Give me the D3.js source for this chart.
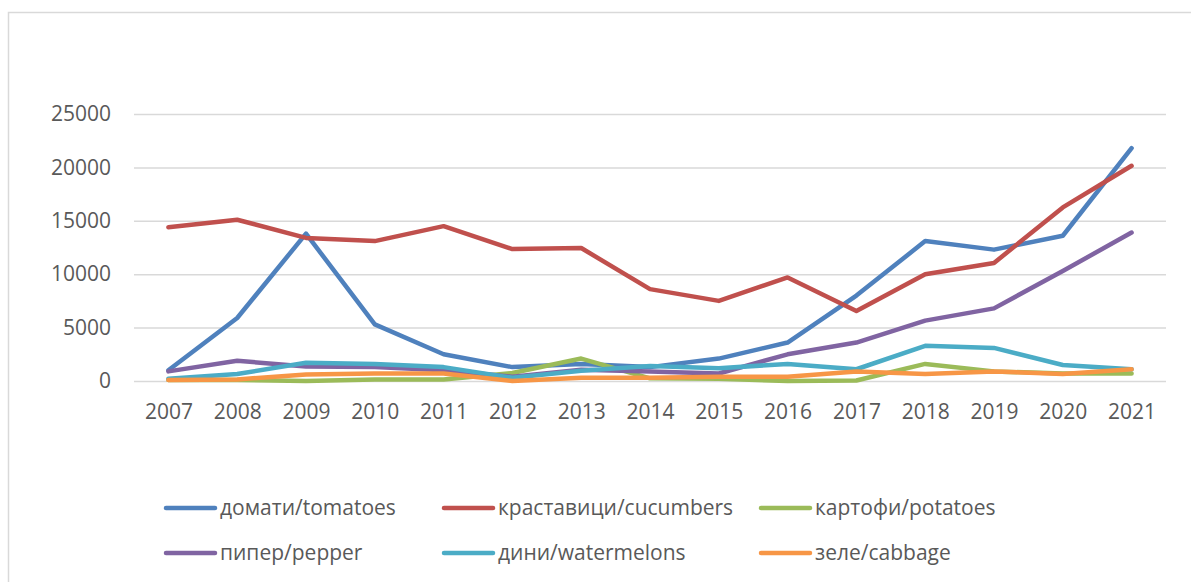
<!DOCTYPE html>
<html>
<head>
<meta charset="utf-8">
<script src="https://cdn.jsdelivr.net/npm/d3@7"></script>
<style>
  body { margin: 0; background: #fff; }
  text { font-family: "Open Sans", "Liberation Sans", sans-serif; fill: #595959; }
</style>
</head>
<body>
<div class="chart"></div>
<script>
'use strict';

var YEARS = ['2007', '2008', '2009', '2010', '2011', '2012', '2013', '2014',
  '2015', '2016', '2017', '2018', '2019', '2020', '2021'];
var Y_TICKS = [0, 5000, 10000, 15000, 20000, 25000];

var SERIES_NAMES = ['домати/tomatoes', 'краставици/cucumbers', 'картофи/potatoes',
  'пипер/pepper', 'дини/watermelons', 'зеле/cabbage'];
var SERIES_COLORS = ['#4f81bd', '#c0504d', '#9bbb59', '#8064a2', '#4bacc6', '#f79646'];

var tomatoes = [1000, 5900, 13800, 5300, 2500, 1300, 1600, 1300, 2100, 3600, 8000, 13100, 12300, 13600, 21800];
var cucumbers = [14400, 15100, 13400, 13100, 14500, 12350, 12450, 8600, 7500, 9700, 6550, 10000, 11050, 16250, 20150];
var potatoes = [100, 100, 0, 150, 150, 750, 2100, 250, 200, 0, 50, 1600, 900, 700, 700];
var pepper = [900, 1900, 1350, 1300, 1000, 400, 1050, 900, 700, 2500, 3600, 5650, 6800, 10300, 13900];
var watermelons = [200, 650, 1700, 1600, 1300, 300, 950, 1400, 1200, 1600, 1100, 3300, 3100, 1500, 1100];
var cabbage = [100, 150, 600, 700, 700, 0, 300, 300, 400, 400, 900, 650, 900, 650, 1100];

var seriesValues = [tomatoes, cucumbers, potatoes, pepper, watermelons, cabbage];

var FONT_SIZE = '21px';

var svg = d3.select('.chart').append('svg')
  .attr('width', 1191)
  .attr('height', 582);

// outer chart border
svg.append('rect')
  .attr('x', 8.5)
  .attr('y', 12.5)
  .attr('width', 1300)
  .attr('height', 700)
  .style('fill', 'none')
  .style('stroke', '#d9d9d9')
  .style('stroke-width', 1.5);

var x = d3.scalePoint()
  .domain(YEARS)
  .range([134, 1166])
  .padding(0.5);

var y = d3.scaleLinear()
  .domain([0, 25000])
  .range([381, 114]);

// gridlines + y labels
var yAxis = d3.axisLeft(y)
  .tickValues(Y_TICKS)
  .tickFormat(d3.format('d'))
  .tickSize(-(1166 - 134))
  .tickPadding(23);
var yAxisG = svg.append('g')
  .attr('transform', 'translate(134,0)')
  .call(yAxis);
yAxisG.select('.domain').remove();
yAxisG.selectAll('.tick line')
  .style('stroke', '#d9d9d9')
  .style('stroke-width', 1.5);
yAxisG.selectAll('.tick text')
  .style('font-size', FONT_SIZE)
  .style('fill', '#595959')
  .style('font-family', '"Open Sans", sans-serif');

// x labels
var xAxis = d3.axisBottom(x)
  .tickSize(0)
  .tickPadding(23);
var xAxisG = svg.append('g')
  .attr('transform', 'translate(0,381)')
  .call(xAxis);
xAxisG.select('.domain').remove();
xAxisG.selectAll('.tick text')
  .style('font-size', FONT_SIZE)
  .style('fill', '#595959')
  .style('font-family', '"Open Sans", sans-serif');

// lines
var line = d3.line()
  .x(function(d, i) { return x(YEARS[i]); })
  .y(function(d) { return y(d); });

svg.append('g')
  .selectAll('path')
  .data(seriesValues)
  .enter()
  .append('path')
  .attr('d', line)
  .style('fill', 'none')
  .style('stroke', function(d, i) { return SERIES_COLORS[i]; })
  .style('stroke-width', 4.5)
  .style('stroke-linejoin', 'round')
  .style('stroke-linecap', 'round');

// legend, 3 per row
var legendX = [166, 444, 761];
var legendY = [508, 553];
var legend = svg.append('g')
  .selectAll('g')
  .data(SERIES_NAMES)
  .enter()
  .append('g')
  .attr('transform', function(d, i) {
    return 'translate(' + legendX[i % 3] + ',' + legendY[Math.floor(i / 3)] + ')';
  });
legend.append('line')
  .attr('x1', 0)
  .attr('x2', 49)
  .style('stroke', function(d, i) { return SERIES_COLORS[i]; })
  .style('stroke-width', 4.5)
  .style('stroke-linecap', 'round');
legend.append('text')
  .attr('x', 54)
  .attr('dy', '0.35em')
  .style('font-size', FONT_SIZE)
  .text(function(d) { return d; });
</script>
</body>
</html>
